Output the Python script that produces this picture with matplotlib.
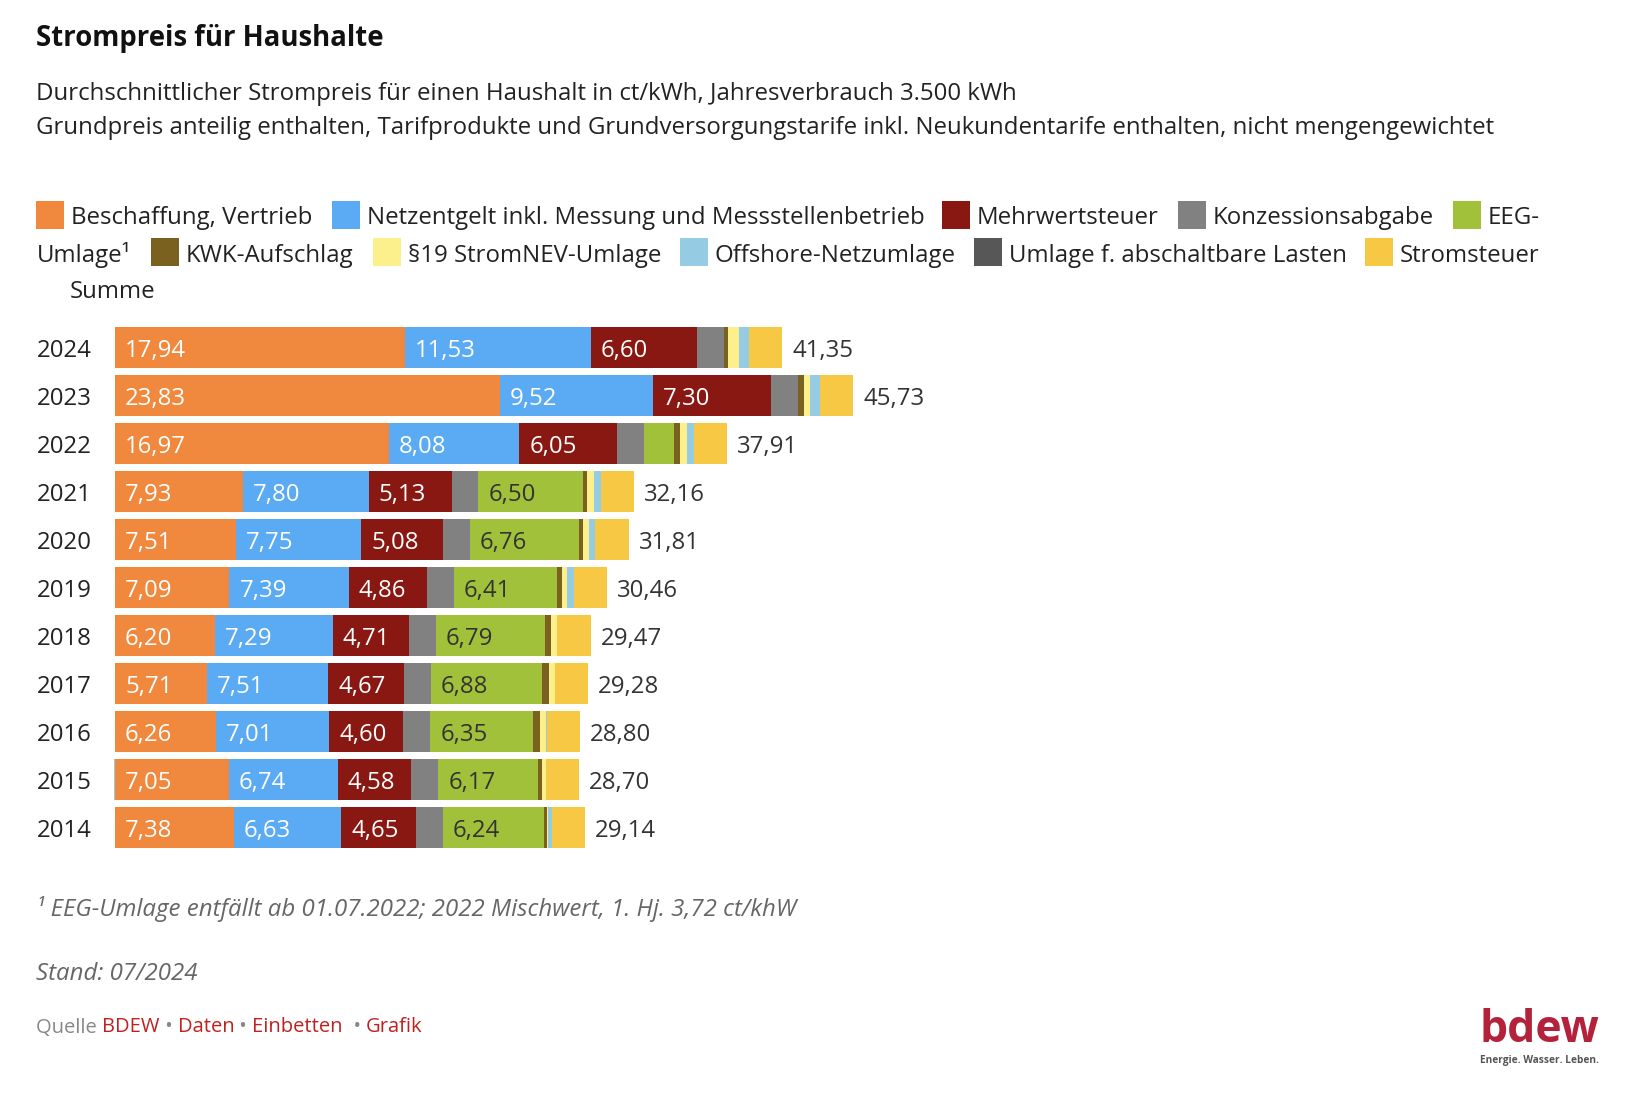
import numpy as np
import matplotlib.pyplot as plt
from matplotlib.patches import Rectangle

plt.rcParams['font.family'] = ['Open Sans', 'DejaVu Sans']

years = ['2024', '2023', '2022', '2021', '2020', '2019', '2018', '2017', '2016', '2015', '2014']
names = ['Beschaffung, Vertrieb', 'Netzentgelt inkl. Messung und Messstellenbetrieb',
         'Mehrwertsteuer', 'Konzessionsabgabe', 'EEG-Umlage', 'KWK-Aufschlag',
         '§19 StromNEV-Umlage', 'Offshore-Netzumlage', 'Umlage f. abschaltbare Lasten',
         'Stromsteuer']
beschaffung = [17.94, 23.83, 16.97, 7.93, 7.51, 7.09, 6.20, 5.71, 6.26, 7.05, 7.38]
netz = [11.53, 9.52, 8.08, 7.80, 7.75, 7.39, 7.29, 7.51, 7.01, 6.74, 6.63]
mwst = [6.60, 7.30, 6.05, 5.13, 5.08, 4.86, 4.71, 4.67, 4.60, 4.58, 4.65]
konzession = [1.66] * 11
eeg = [0, 0, 1.863, 6.50, 6.76, 6.41, 6.79, 6.88, 6.35, 6.17, 6.24]
kwk = [0.275, 0.357, 0.378, 0.254, 0.226, 0.280, 0.345, 0.438, 0.445, 0.254, 0.178]
par19 = [0.643, 0.417, 0.437, 0.432, 0.358, 0.305, 0.370, 0.388, 0.378, 0.237, 0.092]
offshore = [0.656, 0.591, 0.419, 0.395, 0.416, 0.416, 0.037, -0.028, 0.040, -0.051, 0.250]
abschaltbar = [0, 0, 0.003, 0.009, 0.007, 0.005, 0.011, 0.006, 0, 0.006, 0.009]
stromsteuer = [2.05] * 11
summe = [41.35, 45.73, 37.91, 32.16, 31.81, 30.46, 29.47, 29.28, 28.80, 28.70, 29.14]

series = [beschaffung, netz, mwst, konzession, eeg, kwk, par19, offshore, abschaltbar, stromsteuer]
colors = ['#F0883D', '#5BABF4', '#8A1812', '#818181', '#A2C13B', '#7B6120',
          '#FCF08C', '#96CCE3', '#575757', '#F6C844']
label_col = ['white', 'white', 'white', None, '#333333', None, None, None, None, None]

W, H = 1638, 1106
fig = plt.figure(figsize=(W / 100, H / 100), dpi=100)
FS = 17.3
DY = 3.5  # text nudge downwards, px

def px(x, y):
    return x / W, 1 - y / H

def tx(x, y):
    return px(x, y + DY)

scale = 16.14  # px per ct
x0 = 115
xmax = 60
top = 323.5
pitch = 48
ax = fig.add_axes([x0 / W, 1 - (top + pitch * 11) / H, xmax * scale / W, pitch * 11 / H])
ax.set_xlim(0, xmax)
ax.set_ylim(10.5, -0.5)
ax.axis('off')

y = np.arange(len(years))
ty = y + DY / pitch
pos = np.zeros(len(years))
neg = np.zeros(len(years))
for vals, c, lc in zip(series, colors, label_col):
    v = np.array(vals)
    left = np.where(v >= 0, pos, neg + v)
    ax.barh(y, np.abs(v), left=left, height=41 / 48, color=c, linewidth=0, clip_on=False)
    if lc is not None:
        for i in range(len(years)):
            if v[i] > 3:
                ax.text(left[i] + 10 / scale, ty[i], f'{v[i]:.2f}'.replace('.', ','),
                        color=lc, fontsize=FS, va='center', ha='left')
    pos = pos + np.where(v >= 0, v, 0)
    neg = neg + np.where(v < 0, v, 0)

for i in range(len(years)):
    ax.text(pos[i] + 10 / scale, ty[i], f'{summe[i]:.2f}'.replace('.', ','),
            color='#333333', fontsize=FS, va='center', ha='left')
    fig.text(*tx(37, top + pitch * (i + 0.5)), years[i], fontsize=FS,
             color='#222222', va='center', ha='left')

# titles
fig.text(*tx(36, 35), 'Strompreis für Haushalte', fontsize=19.8, fontweight='bold',
         color='#111111', va='center')
fig.text(*tx(36, 90), 'Durchschnittlicher Strompreis für einen Haushalt in ct/kWh, Jahresverbrauch 3.500 kWh',
         fontsize=FS, color='#222222', va='center')
fig.text(*tx(36, 125), 'Grundpreis anteilig enthalten, Tarifprodukte und Grundversorgungstarife inkl. Neukundentarife enthalten, nicht mengengewichtet',
         fontsize=FS, color='#222222', va='center')

# legend
legend_items = [
    (0, 36, 215, 'Beschaffung, Vertrieb'),
    (1, 332, 215, names[1]),
    (2, 942, 215, names[2]),
    (3, 1178, 215, names[3]),
    (4, 1453, 215, 'EEG-'),
    (5, 151, 252, names[5]),
    (6, 373, 252, names[6]),
    (7, 680, 252, names[7]),
    (8, 974, 252, names[8]),
    (9, 1365, 252, names[9]),
]
for idx, lx, ly, txt in legend_items:
    fig.patches.append(Rectangle(px(lx, ly + 14), 28 / W, 28 / H, transform=fig.transFigure,
                                 color=colors[idx], linewidth=0))
    fig.text(*tx(lx + 35, ly), txt, fontsize=FS, color='#222222', va='center')
fig.text(*tx(37, 252), 'Umlage¹', fontsize=FS, color='#222222', va='center')
fig.text(*tx(70, 288), 'Summe', fontsize=FS, color='#222222', va='center')

# notes
fig.text(*tx(36, 905), '¹ EEG-Umlage entfällt ab 01.07.2022; 2022 Mischwert, 1. Hj. 3,72 ct/khW',
         fontsize=FS, style='italic', color='#666666', va='center')
fig.text(*tx(36, 971), 'Stand: 07/2024', fontsize=FS, style='italic', color='#666666', va='center')

parts = [('Quelle ', '#888888'), ('BDEW', '#C0201E'), (' • ', '#888888'), ('Daten', '#C0201E'),
         (' • ', '#888888'), ('Einbetten', '#C0201E'), ('  • ', '#888888'), ('Grafik', '#C0201E')]
fig.canvas.draw()
r = fig.canvas.get_renderer()
cx = 36
for txt, col in parts:
    t = fig.text(*tx(cx, 1024), txt, fontsize=14.5, color=col, va='center')
    cx += t.get_window_extent(renderer=r).width

# logo
fig.text(*px(1539, 1030), 'bdew', fontsize=32, fontweight='bold', color='#B3213A',
         ha='center', va='center')
fig.text(*px(1539, 1061), 'Energie. Wasser. Leben.', fontsize=7.3, fontweight='bold',
         color='#555555', ha='center', va='center')

fig.savefig('out.png', dpi=100)
